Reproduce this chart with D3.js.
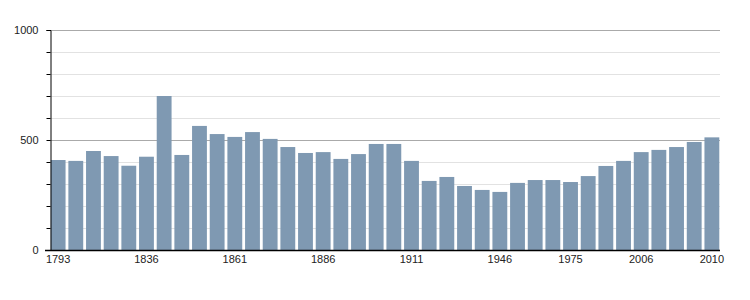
<!DOCTYPE html>
<html>
<head>
<meta charset="utf-8">
<script src="https://cdn.jsdelivr.net/npm/d3@7"></script>
<style>
  body { margin: 0; background: #fff; }
  text { font-family: "Liberation Sans", Arial, sans-serif; font-size: 11px; fill: #222; }
</style>
</head>
<body>
<svg id="chart" width="750" height="300"></svg>
<script>
// census years and population
const years = [1793, 1800, 1806, 1821, 1831, 1836, 1841, 1846, 1851, 1856,
  1861, 1866, 1872, 1876, 1881, 1886, 1891, 1896, 1901, 1906,
  1911, 1921, 1926, 1931, 1936, 1946, 1954, 1962, 1968, 1975,
  1982, 1990, 1999, 2006, 2007, 2008, 2009, 2010];
const population = [409, 405, 450, 427, 383, 424, 700, 432, 564, 527,
  514, 536, 505, 468, 441, 445, 414, 436, 482, 482,
  405, 314, 332, 291, 273, 264, 305, 318, 318, 309,
  336, 382, 405, 445, 455, 468, 491, 512];
const labelYears = [1793, 1836, 1861, 1886, 1911, 1946, 1975, 2006, 2010];
const yTicks = [0, 500, 1000];

const svg = d3.select("#chart");
const plotLeft = 50, plotRight = 720, plotTop = 30, plotBottom = 250;

const x = d3.scaleBand()
  .domain(years)
  .range([plotLeft, plotRight])
  .paddingInner(0.16)
  .paddingOuter(0.04);

const y = d3.scaleLinear()
  .domain([0, 1000])
  .range([plotBottom, plotTop]);

// gridlines, light every 100, darker every 500
svg.append("g")
  .selectAll("line")
  .data(d3.range(100, 1001, 100))
  .join("line")
  .attr("x1", plotLeft)
  .attr("x2", plotRight)
  .attr("y1", d => y(d) + 0.5)
  .attr("y2", d => y(d) + 0.5)
  .attr("stroke", d => d % 500 === 0 ? "#aaa" : "#e2e2e2")
  .attr("stroke-width", 1);

// bars
svg.append("g")
  .selectAll("rect")
  .data(years)
  .join("rect")
  .attr("x", d => x(d))
  .attr("width", x.bandwidth())
  .attr("y", (d, i) => y(population[i]))
  .attr("height", (d, i) => y(0) - y(population[i]))
  .attr("fill", "#7f99b2");

// y axis
const yAxis = svg.append("g")
  .attr("transform", `translate(${plotLeft + 0.5},0)`)
  .call(d3.axisLeft(y).tickValues(d3.range(0, 1001, 100)).tickSize(4)
    .tickFormat(d => yTicks.includes(d) ? d : ""));
yAxis.select(".domain").attr("stroke", "#000");
yAxis.selectAll(".tick line").attr("stroke", "#000");
yAxis.selectAll(".tick text")
  .attr("x", -12)
  .style("font-family", "Liberation Sans, Arial, sans-serif")
  .style("font-size", "11px")
  .attr("fill", "#222");

// x axis
svg.append("line")
  .attr("x1", plotLeft - 5)
  .attr("x2", plotRight)
  .attr("y1", plotBottom + 0.5)
  .attr("y2", plotBottom + 0.5)
  .attr("stroke", "#000")
  .attr("stroke-width", 1.5);

svg.append("g")
  .selectAll("text")
  .data(labelYears)
  .join("text")
  .attr("x", d => x(d) + x.bandwidth() / 2)
  .attr("y", plotBottom + 13)
  .attr("text-anchor", "middle")
  .text(d => d);
</script>
</body>
</html>
